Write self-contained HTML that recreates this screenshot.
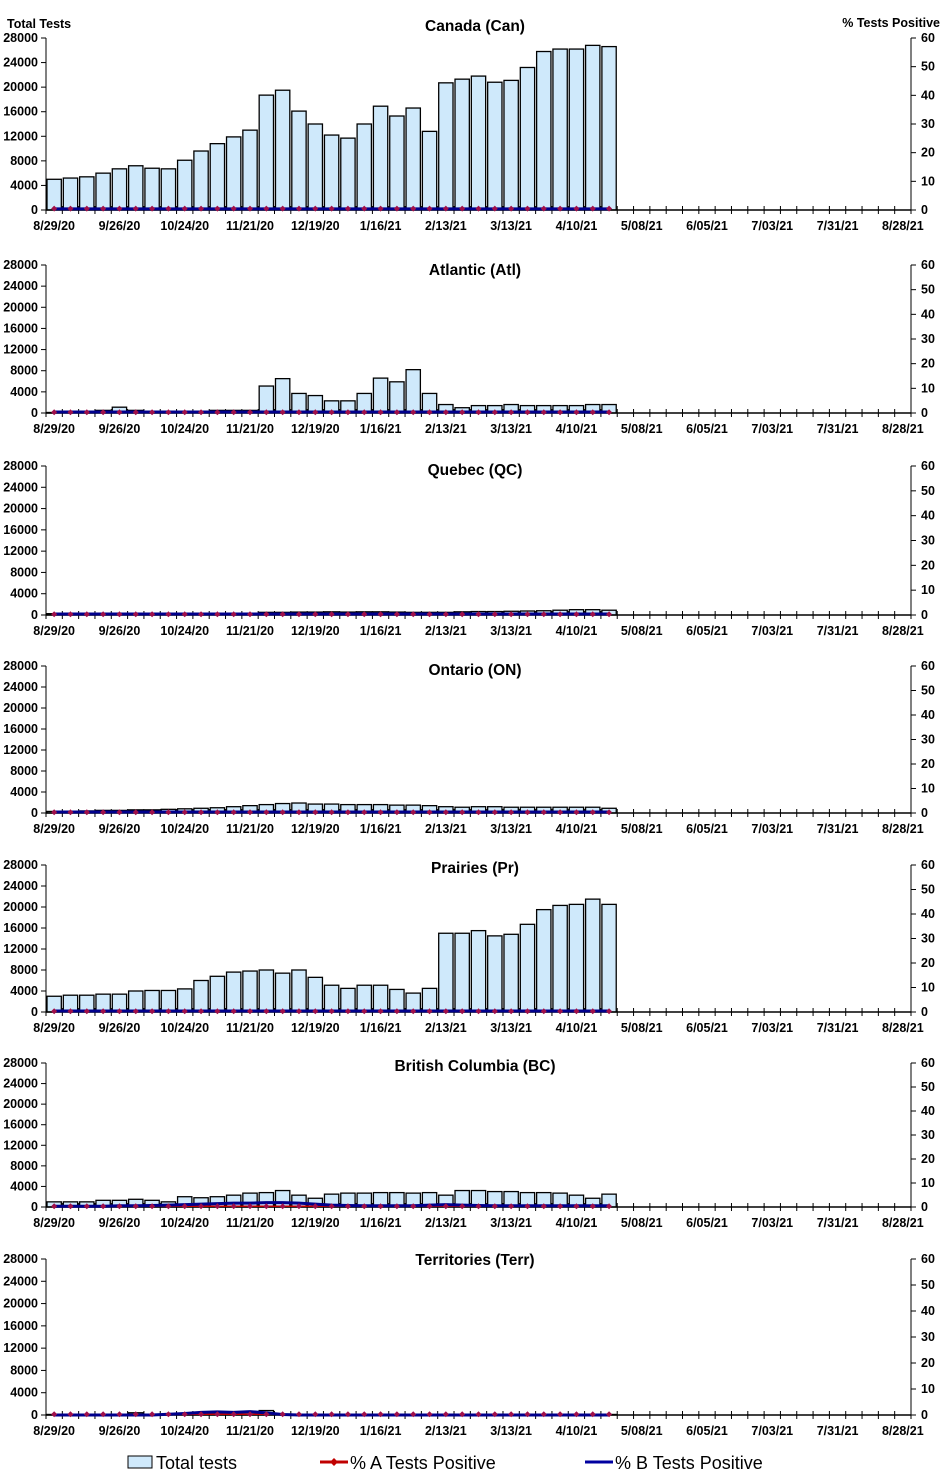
<!DOCTYPE html>
<html><head><meta charset="utf-8"><style>
body{margin:0;background:#fff;width:947px;height:1476px;overflow:hidden;font-family:"Liberation Sans",Arial,sans-serif}
svg text{font-family:"Liberation Sans",Arial,sans-serif}
</style></head><body>
<svg id="chart" width="947" height="1476" viewBox="0 0 947 1476" xmlns="http://www.w3.org/2000/svg">
<text x="7" y="28" font-size="12.5" font-weight="bold">Total Tests</text>
<text x="940" y="27" font-size="12.5" font-weight="bold" text-anchor="end">% Tests Positive</text>
<g>
<rect x="128" y="1456" width="24" height="12" fill="#cfe9fb" stroke="#000"/>
<text x="156" y="1469" font-size="18">Total tests</text>
<line x1="320" y1="1462" x2="348" y2="1462" stroke="#c00000" stroke-width="3"/>
<path d="M334 1458l4 4-4 4-4-4z" fill="#c00000"/>
<text x="350" y="1469" font-size="18">% A Tests Positive</text>
<line x1="585" y1="1462" x2="613" y2="1462" stroke="#0000a0" stroke-width="3"/>
<text x="615" y="1469" font-size="18">% B Tests Positive</text>
</g>
</svg>
<script>
const xLabels=["8/29/20","9/26/20","10/24/20","11/21/20","12/19/20","1/16/21","2/13/21","3/13/21","4/10/21","5/08/21","6/05/21","7/03/21","7/31/21","8/28/21"];
const leftTicks=[0,4000,8000,12000,16000,20000,24000,28000];
const rightTicks=[0,10,20,30,40,50,60];
const nWeeks=53;
const titles=["Canada (Can)","Atlantic (Atl)","Quebec (QC)","Ontario (ON)","Prairies (Pr)","British Columbia (BC)","Territories (Terr)"];
const canTests=[5000,5200,5400,6000,6700,7200,6800,6700,8100,9600,10800,11900,13000,18700,19500,16100,14000,12200,11700,14000,16900,15300,16600,12800,20700,21300,21800,20800,21100,23200,25800,26200,26200,26800,26600];
const atlTests=[100,150,300,500,1100,500,300,300,300,300,500,500,500,5100,6500,3700,3300,2300,2300,3700,6600,5900,8200,3700,1600,1000,1400,1400,1600,1400,1400,1400,1400,1600,1600];
const qcTests=[250,250,250,250,250,250,250,250,250,250,300,300,300,500,500,550,550,600,550,600,600,550,500,500,500,600,650,650,700,750,800,900,1000,1000,900];
const onTests=[300,300,400,500,500,600,600,700,800,900,1000,1200,1400,1600,1800,1900,1700,1700,1600,1600,1600,1500,1500,1400,1200,1100,1200,1200,1100,1100,1100,1100,1100,1100,900];
const prTests=[3000,3200,3200,3400,3400,4000,4100,4100,4400,6000,6800,7600,7800,8000,7400,8000,6600,5100,4500,5100,5100,4300,3600,4500,15000,15000,15500,14500,14800,16700,19500,20300,20500,21500,20500];
const bcTests=[1000,1000,1000,1300,1300,1500,1300,1000,2000,1800,2000,2300,2700,2800,3200,2300,1700,2500,2700,2700,2800,2800,2700,2800,2300,3200,3200,3000,3000,2800,2800,2700,2300,1700,2500];
const terrTests=[100,100,100,100,150,400,150,100,100,150,200,200,200,800,150,100,100,100,100,100,100,100,100,100,100,100,100,100,100,100,100,100,100,100,100];
const canA=[0.5,0.5,0.5,0.5,0.5,0.5,0.5,0.5,0.5,0.5,0.5,0.5,0.5,0.5,0.5,0.5,0.5,0.5,0.5,0.5,0.5,0.5,0.5,0.5,0.5,0.5,0.5,0.5,0.5,0.5,0.5,0.5,0.5,0.5,0.5];
const zeroA=canA.map(()=>0.3);
const bSmall=canA.map(()=>0.4);
const bcB=[0.3,0.3,0.3,0.3,0.5,0.5,0.6,0.8,1,1.2,1.4,1.6,1.6,1.8,1.8,1.6,1.2,0.8,0.6,0.5,0.5,0.5,0.5,0.8,1,0.8,0.6,0.5,0.5,0.5,0.5,0.5,0.5,0.5,0.5];
const terrB=[0,0,0,0,0,0,0,0.3,0.6,1,1.2,1,1.3,0.8,0.2,0,0,0,0,0,0,0,0,0,0,0,0,0,0,0,0,0,0,0,0];
const panelTests=[canTests,atlTests,qcTests,onTests,prTests,bcTests,terrTests];
const panelA=[canA,zeroA,zeroA,zeroA,zeroA,zeroA,zeroA];
const panelB=[bSmall,bSmall,bSmall,bSmall,bSmall,bcB,terrB];
const geom=[[38,210,26],[265,413,270],[466,615,470],[666,813,670],[865,1012,868],[1063,1207,1066],[1259,1415,1260]];
const NS="http://www.w3.org/2000/svg";
const svg=document.getElementById('chart');
function el(t,a,p){const e=document.createElementNS(NS,t);for(const k in a)e.setAttribute(k,a[k]);(p||svg).appendChild(e);return e;}
const X0=46,X1=911,bw=(X1-X0)/nWeeks;
const xPos=i=>X0+i*bw;
geom.forEach((g,p)=>{
  const [top,bot,ty]=g;
  const yL=v=>bot-(v/28000)*(bot-top);
  const yR=v=>bot-(v/60)*(bot-top);
  const grp=el('g',{});
  
  
  const tt=el('text',{x:475,y:ty+5,'font-size':15.5,'font-weight':'bold','text-anchor':'middle'},grp);
  tt.textContent=titles[p];
  
  
  panelTests[p].forEach((v,i)=>{
    const r=el('rect',{x:xPos(i)+1,y:yL(v),width:bw-2,height:bot-yL(v),fill:'#cfe9fb',stroke:'#000','stroke-width':1.3},grp);
    
    
  });
  el('line',{x1:X0,y1:top,x2:X0,y2:bot,stroke:'#000'},grp);
  el('line',{x1:X1,y1:top,x2:X1,y2:bot,stroke:'#000'},grp);
  el('line',{x1:X0,y1:bot,x2:X1,y2:bot,stroke:'#000','stroke-width':1.5},grp);
  leftTicks.forEach(v=>{
    el('line',{x1:X0-5,y1:yL(v),x2:X0,y2:yL(v),stroke:'#000'},grp);
    const t=el('text',{x:X0-8,y:yL(v)+4,'font-size':12.5,'font-weight':'bold','text-anchor':'end'},grp);
    t.textContent=v;
    
    
  });
  rightTicks.forEach(v=>{
    el('line',{x1:X1,y1:yR(v),x2:X1+5,y2:yR(v),stroke:'#000'},grp);
    const t=el('text',{x:X1+10,y:yR(v)+4,'font-size':12.5,'font-weight':'bold'},grp);
    t.textContent=v;
    
    
  });
  for(let i=0;i<=nWeeks;i++) el('line',{x1:xPos(i),y1:bot-4,x2:xPos(i),y2:bot+4,stroke:'#000'},grp);
  xLabels.forEach((l,k)=>{
    const t=el('text',{x:xPos(k*4)+bw/2,y:bot+20,'font-size':12.5,'font-weight':'bold','text-anchor':'middle'},grp);
    t.textContent=l;
    
    
  });
  const ptsA=panelA[p].map((v,i)=>(xPos(i)+bw/2)+','+yR(v)).join(' ');
  const la=el('polyline',{points:ptsA,fill:'none',stroke:'#c00000','stroke-width':1.5},grp);
  
  
  const ptsB=panelB[p].map((v,i)=>(xPos(i)+bw/2)+','+yR(v)).join(' ');
  const lb=el('polyline',{points:ptsB,fill:'none',stroke:'#00008c','stroke-width':3},grp);
  
  
  panelA[p].forEach((v,i)=>{
    const cx=xPos(i)+bw/2,cy=yR(v);
    const m=el('path',{d:`M${cx} ${cy-3}l3 3-3 3-3-3z`,fill:'#a0104a'},grp);
    
    
  });
});
</script>
</body></html>
